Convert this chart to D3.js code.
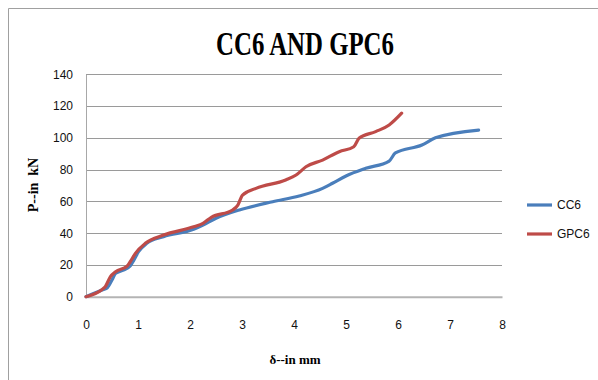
<!DOCTYPE html>
<html>
<head>
<meta charset="utf-8">
<script src="https://cdn.jsdelivr.net/npm/d3@7"></script>
<style>
  body { margin: 0; background: #fff; }
  svg { display: block; }
</style>
</head>
<body>
<svg id="chart" width="598" height="380"></svg>
<script>
// values
var cc6X = [0, 0.31, 0.40, 0.50, 0.57, 0.72, 0.85, 0.92, 1.01, 1.17, 1.49, 2.07, 2.25, 2.50, 2.95, 3.59, 4.10, 4.55, 4.74, 5.0, 5.38, 5.83, 5.95, 6.46, 6.72, 7.55]
var cc6Y = [0, 4.2, 5.3, 10.5, 14.7, 16.8, 19.3, 23, 28.3, 33.6, 37.8, 42.4, 45.1, 49.4, 54.6, 59.8, 63.4, 68.2, 71.4, 76, 80.8, 85.4, 90.5, 95.5, 100, 104.9]
var gpc6X = [0, 0.31, 0.37, 0.47, 0.57, 0.79, 0.85, 0.95, 1.14, 1.49, 2.07, 2.25, 2.41, 2.82, 2.92, 3.01, 3.27, 3.84, 4.04, 4.23, 4.55, 4.87, 5.15, 5.25, 5.57, 5.83, 6.07]
var gpc6Y = [0, 4.6, 6.3, 12.6, 15.7, 19.3, 22, 27.3, 33.6, 38.8, 44, 46.2, 50, 54.6, 57.7, 64, 68.2, 73.5, 76.6, 81.8, 86, 91.3, 94.4, 99.7, 103.9, 108.1, 115.5]
var xTicks = [0, 1, 2, 3, 4, 5, 6, 7, 8]
var yTicks = [0, 20, 40, 60, 80, 100, 120, 140]
var seriesNames = ["CC6", "GPC6"]
var seriesColors = ["#4a7ebb", "#be4b48"]

var series = [
  { name: seriesNames[0], color: seriesColors[0], pts: cc6X.map(function(x, i) { return [x, cc6Y[i]] }) },
  { name: seriesNames[1], color: seriesColors[1], pts: gpc6X.map(function(x, i) { return [x, gpc6Y[i]] }) }
]

var svg = d3.select("#chart")
var plot = { left: 86, right: 502, top: 74.3, bottom: 296.7 }

var x = d3.scaleLinear().domain([0, 8]).range([plot.left, plot.right])
var y = d3.scaleLinear().domain([0, 140]).range([plot.bottom, plot.top])

// outer frame (only left/top edges fall inside the picture)
svg.append("path")
  .attr("d", "M8.5,380 L8.5,8.5 L598,8.5")
  .attr("fill", "none")
  .attr("stroke", "#a0a0a0")
  .attr("stroke-width", 1)

// gridlines
svg.append("g")
  .selectAll("line")
  .data(yTicks.slice(1))
  .enter()
  .append("line")
  .attr("x1", plot.left)
  .attr("x2", plot.right)
  .attr("y1", function(d) { return Math.round(y(d)) + 0.5 })
  .attr("y2", function(d) { return Math.round(y(d)) + 0.5 })
  .attr("stroke", "#9a9a9a")
  .attr("stroke-width", 1)

// axes
var yAxis = svg.append("g")
  .attr("transform", "translate(" + plot.left + ",0)")
  .call(d3.axisLeft(y).tickValues(yTicks).tickSize(0).tickPadding(13))
var xAxis = svg.append("g")
  .attr("transform", "translate(0," + plot.bottom + ")")
  .call(d3.axisBottom(x).tickValues(xTicks).tickSize(0).tickPadding(24))

yAxis.select(".domain").attr("stroke", "#a8a8a8")
xAxis.select(".domain").attr("stroke", "#b4b4b4").attr("stroke-width", 2)
svg.selectAll(".tick text")
  .attr("font-family", "'Liberation Sans', Arial, sans-serif")
  .attr("font-size", 12)
  .attr("fill", "#111")

// lines
var line = d3.line()
  .x(function(d) { return x(d[0]) })
  .y(function(d) { return y(d[1]) })
  .curve(d3.curveMonotoneX)

svg.append("g")
  .selectAll("path")
  .data(series)
  .enter()
  .append("path")
  .attr("fill", "none")
  .attr("stroke", function(d) { return d.color })
  .attr("stroke-width", 3.2)
  .attr("stroke-linejoin", "round")
  .attr("stroke-linecap", "round")
  .attr("d", function(d) { return line(d.pts) })

// title
svg.append("text")
  .attr("transform", "translate(305,55) scale(0.73,1)")
  .attr("text-anchor", "middle")
  .attr("font-family", "'Liberation Serif', 'Times New Roman', serif")
  .attr("font-weight", "bold")
  .attr("font-size", 34)
  .attr("fill", "#000")
  .text("CC6 AND GPC6")

// axis titles
svg.append("text")
  .attr("x", 295)
  .attr("y", 364)
  .attr("text-anchor", "middle")
  .attr("font-family", "'Liberation Serif', 'Times New Roman', serif")
  .attr("font-weight", "bold")
  .attr("font-size", 13)
  .text("δ--in mm")

svg.append("text")
  .attr("transform", "translate(38,185) rotate(-90)")
  .attr("text-anchor", "middle")
  .attr("font-family", "'Liberation Serif', 'Times New Roman', serif")
  .attr("font-weight", "bold")
  .attr("font-size", 14)
  .attr("xml:space", "preserve")
  .text("P--in  kN")

// legend
var legend = svg.append("g")
  .selectAll("g")
  .data(series)
  .enter()
  .append("g")
  .attr("transform", function(d, i) { return "translate(527," + (205 + i * 29) + ")" })

legend.append("line")
  .attr("x1", 0)
  .attr("x2", 25)
  .attr("stroke", function(d) { return d.color })
  .attr("stroke-width", 3.2)

legend.append("text")
  .attr("x", 30)
  .attr("dy", "0.35em")
  .attr("font-family", "'Liberation Sans', Arial, sans-serif")
  .attr("font-size", 12)
  .attr("fill", "#111")
  .text(function(d) { return d.name })
</script>
</body>
</html>
